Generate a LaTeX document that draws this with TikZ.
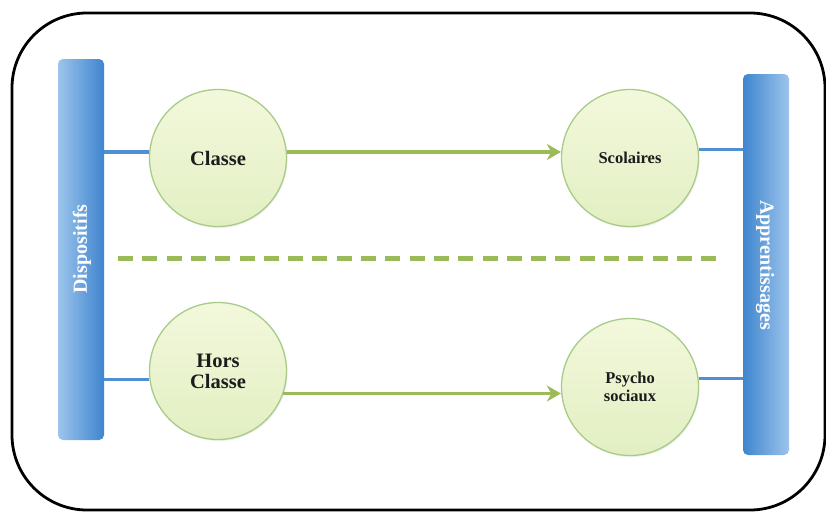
\documentclass[tikz,border=0pt]{standalone}
\usepackage{fontspec}
\setmainfont{Liberation Serif}
\usetikzlibrary{arrows.meta,shadows}

\definecolor{barlight}{HTML}{9CC4EC}
\definecolor{bardark}{HTML}{3F85CE}
\definecolor{linkblue}{HTML}{4F8FD2}
\definecolor{leafgreen}{HTML}{9BBB59}
\definecolor{circtop}{HTML}{F3F8DC}
\definecolor{circbot}{HTML}{E2EFC2}
\definecolor{circedge}{HTML}{A8CC88}
\definecolor{inktext}{HTML}{1C1C1C}

\tikzset{
  frame/.style={line width=2.8pt, rounded corners=75pt},
  sidebar/.style={rectangle, rounded corners=5pt, minimum width=46pt,
    minimum height=381pt, inner sep=0pt},
  bartext/.style={text=white, font=\bfseries\fontsize{20}{22}\selectfont, inner sep=0pt},
  bubble/.style={circle, minimum size=137pt, inner sep=0pt, draw=circedge,
    line width=1.3pt, top color=circtop, bottom color=circbot,
    drop shadow={shadow xshift=1pt, shadow yshift=-1.5pt, opacity=0.12},
    text=inktext, align=center},
  bigtext/.style={font=\bfseries\fontsize{20.5}{24}\selectfont},
  smalltext/.style={font=\bfseries\fontsize{16.5}{20}\selectfont},
  link/.style={draw=linkblue, line width=3.6pt},
  flow/.style={draw=leafgreen, line width=3.8pt,
    -{Stealth[length=14pt, width=16pt, inset=4.5pt]}},
  divider/.style={draw=leafgreen, line width=4.8pt, dash pattern=on 15pt off 9.3pt}
}

\begin{document}
\begin{tikzpicture}[x=1pt, y=-1pt]
  \useasboundingbox (0,0) rectangle (826,514);
  \fill[white] (0,0) rectangle (826,514);

  % outer frame
  \draw[frame] (12,13) rectangle (825,510);

  % side bars
  \node[sidebar, left color=barlight, right color=bardark] (disp) at (81,249.5) {};
  \node[sidebar, left color=bardark, right color=barlight] (app) at (766,264.5) {};
  \node[bartext, rotate=90] (dispText) at (82,249) {Dispositifs};
  \node[bartext, rotate=-90] (appText) at (765,265) {Apprentissages};

  % circles
  \node[bubble, bigtext] (classe) at (218,158) {Classe};
  \node[bubble, smalltext] (scol) at (630,158) {Scolaires};
  \node[bubble, bigtext] (hors) at (218,371) {Hors\\[-3pt]Classe};
  \node[bubble, smalltext] (psy) at (630,387) {Psycho\\[-2pt]sociaux};

  % blue links to the bars
  \draw[link] (disp.east |- classe.175) -- (classe.175);
  \draw[link] (scol.7) -- (app.west |- scol.7);
  \draw[link] (disp.east |- hors.187) -- (hors.187);
  \draw[link] (psy.7) -- (app.west |- psy.7);

  % green arrows
  \draw[flow] (classe.5) -- (classe.5 -| scol.west);
  \draw[flow] (hors.-19.5) -- (hors.-19.5 -| psy.west);

  % dashed divider
  \coordinate (divL) at (118,258.5);
  \coordinate (divR) at (722,258.5);
  \draw[divider] (divL) -- (divR);
\end{tikzpicture}
\end{document}
